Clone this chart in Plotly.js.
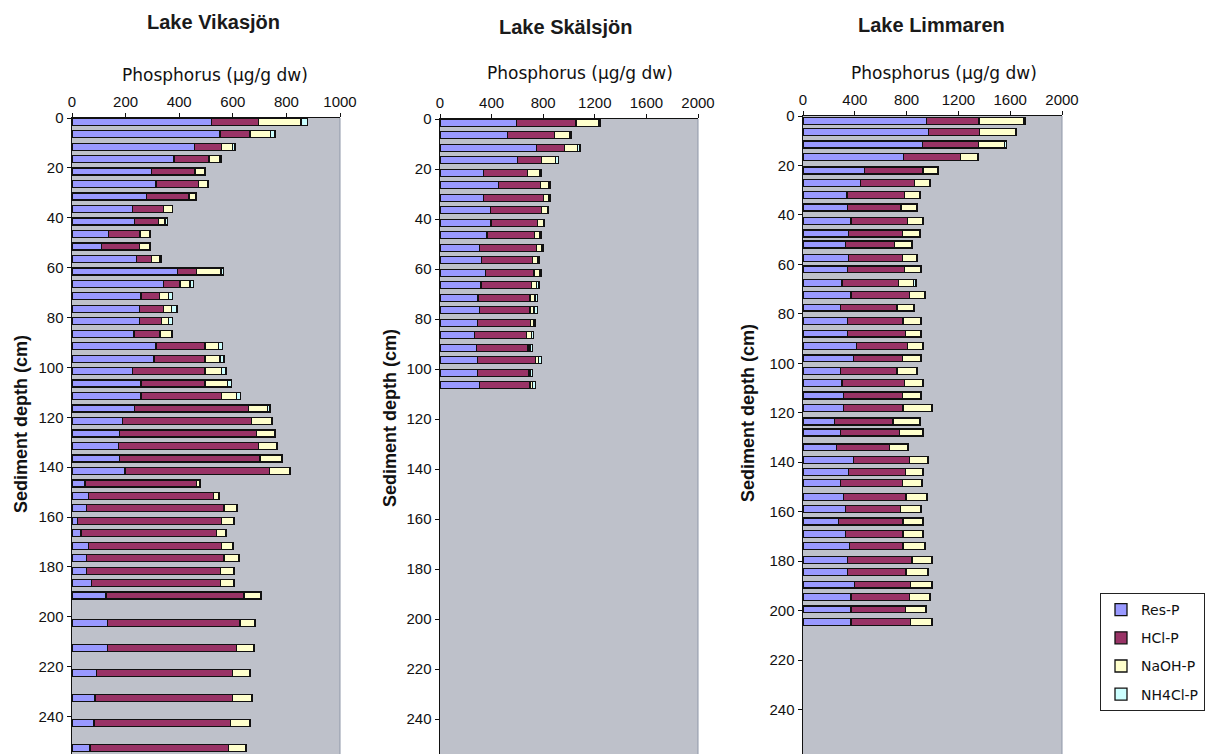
<!DOCTYPE html>
<html>
<head>
<meta charset="utf-8">
<script src="https://cdn.plot.ly/plotly-3.0.1.min.js"></script>
<style>
  html, body { margin: 0; padding: 0; background: #ffffff; }
  #chart { width: 1224px; height: 754px; }
</style>
</head>
<body>
<div id="chart"></div>
<script>
// ---------- data ----------
const seriesNames = ["Res-P", "HCl-P", "NaOH-P", "NH4Cl-P"];
const lakeNames = ["Lake Vikasjön", "Lake Skälsjön", "Lake Limmaren"];

// Lake Vikasjön
const vikDepth = [1.5, 6.5, 11.5, 16.5, 21.5, 26.5, 31.5, 36.5, 41.5, 46.5, 51.5, 56.5, 61.5, 66.5, 71.5, 76.5,
  81.5, 86.5, 91.5, 96.5, 101.5, 106.5, 111.5, 116.5, 121.5, 126.5, 131.5, 136.5, 141.5, 146.5, 151.5, 156.5,
  161.5, 166.5, 171.5, 176.5, 181.5, 186.5, 191.5, 202.5, 212.5, 222.5, 232.5, 242.5, 252.5];
const vikRes = [520, 552, 456, 381, 297, 313, 279, 226, 233, 136, 111, 241, 394, 341, 257, 251,
  251, 231, 313, 306, 225, 257, 257, 233, 189, 177, 173, 177, 198, 49, 61, 55,
  20, 34, 61, 55, 55, 73, 127, 132, 132, 92, 86, 82, 67];
const vikHCl = [175, 112, 102, 130, 162, 158, 158, 115, 89, 118, 140, 56, 71, 62, 69, 90,
  84, 97, 183, 190, 271, 239, 301, 425, 481, 512, 522, 524, 538, 416, 466, 512,
  539, 506, 497, 512, 500, 482, 515, 495, 482, 508, 514, 510, 516];
const vikNaOH = [160, 77, 40, 41, 37, 34, 26, 33, 25, 37, 40, 31, 91, 37, 33, 31,
  24, 44, 50, 56, 62, 85, 56, 72, 75, 68, 69, 81, 75, 13, 19, 47,
  43, 33, 40, 54, 47, 47, 62, 56, 63, 62, 70, 70, 66];
const vikNH4Cl = [25, 16, 10, 6, 3, 2, 2, 2, 10, 3, 2, 6, 9, 14, 15, 20,
  15, 2, 15, 15, 17, 15, 15, 9, 2, 3, 2, 4, 2, 2, 2, 2,
  2, 2, 4, 2, 2, 2, 2, 2, 2, 2, 2, 2, 2];

// Lake Skälsjön
const skaDepth = [1.5, 6.5, 11.5, 16.5, 21.5, 26.5, 31.5, 36.5, 41.5, 46.5, 51.5, 56.5, 61.5, 66.5, 71.5, 76.5,
  81.5, 86.5, 91.5, 96.5, 101.5, 106.5];
const skaRes = [594, 521, 750, 599, 339, 456, 339, 391, 396, 365, 307, 320, 352, 318, 294, 307,
  292, 268, 281, 292, 292, 307];
const skaHCl = [461, 365, 214, 187, 338, 325, 463, 395, 359, 369, 440, 396, 377, 390, 404, 391,
  411, 404, 401, 450, 393, 391];
const skaNaOH = [177, 117, 104, 112, 99, 65, 44, 47, 47, 42, 39, 39, 47, 39, 39, 31,
  21, 36, 16, 21, 13, 18];
const skaNH4Cl = [13, 13, 18, 19, 13, 13, 13, 8, 10, 10, 13, 13, 10, 21, 18, 26,
  13, 16, 21, 23, 18, 24];

// Lake Limmaren
const limDepth = [2, 6.5, 11.5, 16.5, 22, 27, 32, 37, 42.5, 47.5, 52, 57.5, 62, 67.5, 72.5, 77.5,
  83, 88, 93, 98, 103, 108, 113, 118, 123.5, 128, 134, 139, 144, 148.5, 154, 159,
  164, 169, 174, 179.5, 184.5, 189.5, 194.5, 199.5, 204.5];
const limRes = [952, 970, 924, 777, 476, 443, 340, 345, 371, 353, 327, 353, 345, 301, 371, 288,
  345, 345, 412, 391, 288, 301, 314, 314, 245, 288, 257, 391, 353, 288, 314, 327,
  275, 327, 360, 345, 345, 396, 371, 371, 371];
const limHCl = [408, 394, 430, 438, 451, 419, 442, 412, 437, 417, 381, 417, 437, 438, 453, 438,
  427, 445, 396, 379, 438, 481, 456, 458, 450, 458, 412, 433, 437, 482, 481, 425,
  497, 445, 412, 497, 450, 433, 453, 419, 458];
const limNaOH = [344, 281, 200, 134, 113, 116, 116, 123, 116, 128, 134, 110, 129, 116, 113, 129,
  139, 121, 116, 141, 154, 142, 141, 219, 203, 178, 139, 139, 134, 149, 157, 154,
  152, 152, 165, 149, 168, 162, 154, 160, 162];
const limNH4Cl = [10, 5, 15, 5, 5, 5, 5, 5, 5, 5, 5, 5, 5, 18, 5, 5,
  5, 5, 5, 5, 5, 5, 5, 5, 5, 5, 5, 5, 5, 5, 5, 5,
  5, 5, 5, 5, 5, 5, 5, 5, 5];

const xTicks1 = [0, 200, 400, 600, 800, 1000];
const xTicks23 = [0, 400, 800, 1200, 1600, 2000];
const yTicks = [0, 20, 40, 60, 80, 100, 120, 140, 160, 180, 200, 220, 240];

// ---------- styling ----------
const W = 1224, H = 754;
const colors = ["#9999FF", "#993366", "#FFFFCC", "#CCFFFF"];
const plotBg = "#BEC1CA";
const px = v => v / W;
const py = v => 1 - v / H;

const panels = [
  { depth: vikDepth, vals: [vikRes, vikHCl, vikNaOH, vikNH4Cl], xr: [0, 1000], ticks: xTicks1,
    x0: 72, x1: 340, top: 118, yr: [255, 0],
    title: [213, 22], xt: [215, 75], yt: [21, 424] },
  { depth: skaDepth, vals: [skaRes, skaHCl, skaNaOH, skaNH4Cl], xr: [0, 2000], ticks: xTicks23,
    x0: 440, x1: 698, top: 119, yr: [254, 0],
    title: [565, 27], xt: [580, 73], yt: [390, 418] },
  { depth: limDepth, vals: [limRes, limHCl, limNaOH, limNH4Cl], xr: [0, 2000], ticks: xTicks23,
    x0: 803, x1: 1062, top: 116, yr: [258, 0],
    title: [931, 25], xt: [944, 73], yt: [748, 413] }
];

const traces = [];
const layout = {
  width: W, height: H, autosize: false,
  margin: { l: 0, r: 0, t: 0, b: 0, pad: 0 },
  paper_bgcolor: "#ffffff",
  barmode: "stack",
  bargap: 0,
  showlegend: true,
  font: { family: "Liberation Sans, Arial, sans-serif", color: "#111111", size: 15 },
  legend: {
    x: px(1100), y: py(593), xanchor: "left", yanchor: "top",
    bgcolor: "#ffffff", bordercolor: "#222222", borderwidth: 1,
    font: { family: "DejaVu Sans, sans-serif", size: 14, color: "#111111" },
    traceorder: "grouped", tracegroupgap: 7
  },
  annotations: [],
  shapes: []
};

panels.forEach((p, i) => {
  const n = i === 0 ? "" : String(i + 1);
  const xa = "x" + n, ya = "y" + n;
  seriesNames.forEach((name, s) => {
    traces.push({
      type: "bar", orientation: "h",
      x: p.vals[s], y: p.depth,
      width: 2.8,
      name: name,
      legendgroup: name,
      showlegend: i === 0,
      xaxis: xa, yaxis: ya,
      marker: { color: colors[s], line: { color: "#111111", width: 1.3 } },
      hoverinfo: "x+y+name"
    });
  });
  layout["xaxis" + n] = {
    domain: [px(p.x0), px(p.x1)],
    anchor: ya, side: "top",
    range: p.xr, tickvals: p.ticks, ticktext: p.ticks.map(String),
    showgrid: false, zeroline: false,
    showline: true, linecolor: "#111111", linewidth: 1.5,
    ticks: "outside", ticklen: 4, tickcolor: "#111111",
    tickfont: { size: 15, family: "Liberation Sans, Arial, sans-serif", color: "#111111" },
    fixedrange: true
  };
  layout["yaxis" + n] = {
    domain: [0, py(p.top)],
    anchor: xa,
    range: p.yr, tickvals: yTicks, ticktext: yTicks.map(String),
    showgrid: false, zeroline: false,
    showline: true, linecolor: "#111111", linewidth: 1.5,
    ticks: "outside", ticklen: 4, tickcolor: "#111111",
    tickfont: { size: 15, family: "Liberation Sans, Arial, sans-serif", color: "#111111" },
    fixedrange: true
  };
  // plot area background
  layout.shapes.push({
    type: "rect", xref: "paper", yref: "paper", layer: "below",
    x0: px(p.x0), x1: px(p.x1), y0: 0, y1: py(p.top),
    fillcolor: plotBg, line: { width: 0 }
  });
  layout.shapes.push({
    type: "line", xref: "paper", yref: "paper", layer: "above",
    x0: px(p.x1), x1: px(p.x1), y0: 0, y1: py(p.top),
    line: { color: "#8E96A8", width: 1 }
  });
  layout.annotations.push({
    text: "<b>" + lakeNames[i] + "</b>", xref: "paper", yref: "paper",
    x: px(p.title[0]), y: py(p.title[1]), xanchor: "center", yanchor: "middle",
    showarrow: false, font: { family: "Liberation Sans, Arial, sans-serif", size: 20, color: "#1a1a1a" }
  });
  layout.annotations.push({
    text: "Phosphorus (µg/g dw)", xref: "paper", yref: "paper",
    x: px(p.xt[0]), y: py(p.xt[1]), xanchor: "center", yanchor: "middle",
    showarrow: false, font: { family: "DejaVu Sans, sans-serif", size: 17, color: "#111111" }
  });
  layout.annotations.push({
    text: "<b>Sediment depth (cm)</b>", xref: "paper", yref: "paper",
    x: px(p.yt[0]), y: py(p.yt[1]), xanchor: "center", yanchor: "middle",
    textangle: -90,
    showarrow: false, font: { family: "Liberation Sans, Arial, sans-serif", size: 18, color: "#111111" }
  });
});

Plotly.newPlot("chart", traces, layout, { displayModeBar: false, staticPlot: true });
</script>
</body>
</html>
